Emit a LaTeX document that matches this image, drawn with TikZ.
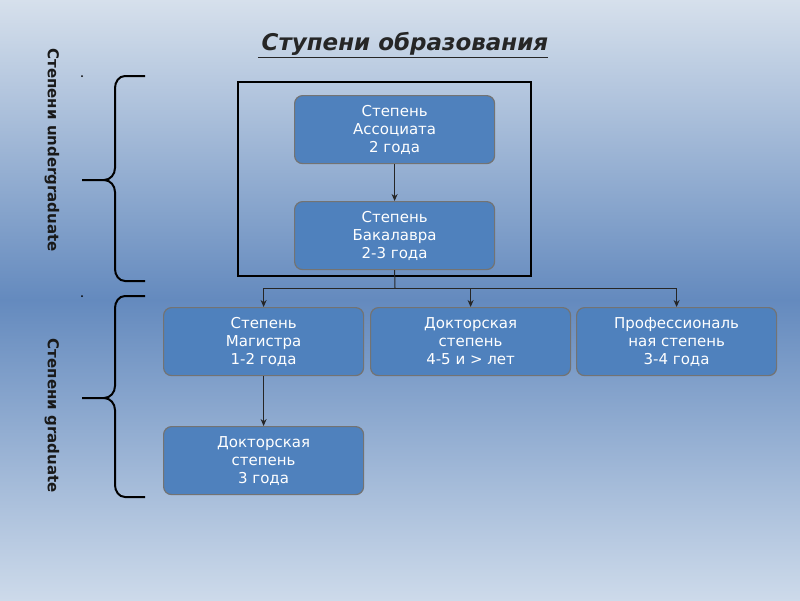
\documentclass[tikz,border=0pt]{standalone}
\usepackage{fontspec}
\setmainfont{DejaVu Sans}
\usetikzlibrary{arrows.meta}
\begin{document}
\begin{tikzpicture}[x=1pt,y=-1pt,
  box/.style={draw=black!55,line width=1.2pt,fill={rgb,255:red,79;green,129;blue,189},rounded corners=8pt,minimum width=200pt,minimum height=68pt,text=white,align=center,font=\fontsize{15}{18}\selectfont,inner sep=2pt,anchor=north west},
  conn/.style={draw=black!85,line width=1pt},
  arr/.style={conn,-{Stealth[length=7pt,width=6pt]}},
  brace/.style={draw=black,line width=2pt},
  vtext/.style={rotate=-90,font=\bfseries\fontsize{15}{18}\selectfont,text=black!90}]
\shade[top color={rgb,255:red,214;green,224;blue,236},bottom color={rgb,255:red,100;green,138;blue,190}] (0,0) rectangle (800,300);
\shade[top color={rgb,255:red,100;green,138;blue,190},bottom color={rgb,255:red,205;green,218;blue,234}] (0,299.5) rectangle (800,600);
\useasboundingbox (0,0) rectangle (800,600);
\node[font=\bfseries\itshape\fontsize{23}{26}\selectfont,text=black!85] (title) at (403,45) {\underline{\,Ступени образования}};
\draw[line width=1.5pt] (238,82) rectangle (531,276);
\node[box] (a) at (294,95) {Степень\\Ассоциата\\2 года};
\node[box] (b) at (294,201) {Степень\\Бакалавра\\2-3 года};
\node[box] (m) at (163,307) {Степень\\Магистра\\1-2 года};
\node[box] (d) at (370,307) {Докторская\\степень\\4-5 и > лет};
\node[box] (p) at (576,307) {Профессиональ\\ная степень\\3-4 года};
\node[box] (dd) at (163,426) {Докторская\\степень\\3 года\hspace{3.5em}};
\draw[arr] (a.south) -- (b.north);
\coordinate (j) at (395,288);
\draw[conn] (b.south) -- (j);
\draw[arr] (j) -| (m.north);
\draw[arr] (j) -| (d.north);
\draw[arr] (j) -| (p.north);
\draw[arr] (m.south) -- (dd.north);
\draw[brace] (145,76) -- (125,76) to[out=180,in=90] (115,88) -- (115,168) to[out=-90,in=0] (104,180) -- (82,180);
\draw[brace] (104,180) to[out=0,in=90] (115,192) -- (115,269) to[out=-90,in=180] (125,281) -- (145,281);
\draw[brace] (145,296) -- (125,296) to[out=180,in=90] (115,308) -- (115,386) to[out=-90,in=0] (104,398) -- (82,398);
\draw[brace] (104,398) to[out=0,in=90] (115,410) -- (115,485) to[out=-90,in=180] (125,497) -- (145,497);
\fill (82,76) circle (1pt); \fill (82,296) circle (1pt);
\node[vtext,anchor=west] (u) at (52,45) {Степени undergraduate};
\node[vtext,anchor=east] (g) at (52,496) {Степени graduate};
\end{tikzpicture}
\end{document}
